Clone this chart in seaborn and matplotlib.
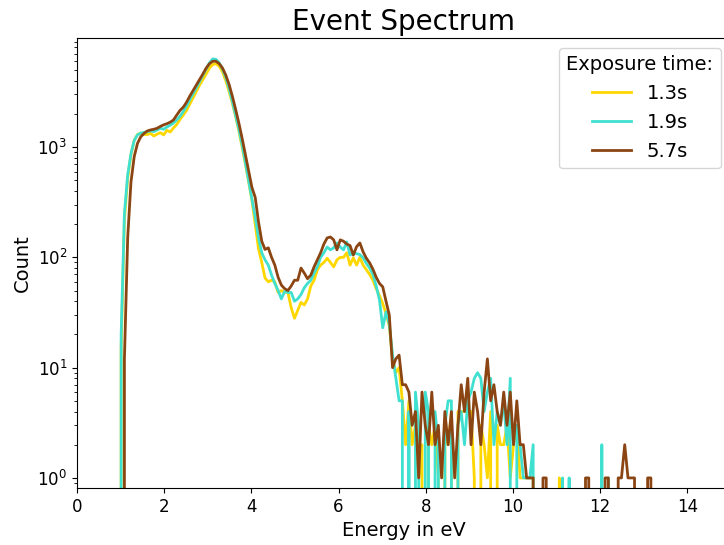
import numpy as np
import pandas as pd
import matplotlib
matplotlib.use("Agg")
import matplotlib.pyplot as plt
import seaborn as sns

# Histogram bin grid (eV)
bin_start = 0.9375
bin_width = 0.075

exposure_labels = ["1.3s", "1.9s", "5.7s"]

counts_1_3s = [
    0, 15, 220, 520, 850, 1150, 1300, 1340, 1300, 1300,
    1330, 1260, 1310, 1350, 1290, 1420, 1370, 1490, 1600, 1780,
    1950, 2150, 2450, 2800, 3200, 3650, 4100, 4600, 5200, 5600,
    5700, 5400, 4800, 4000, 3200, 2500, 1900, 1400, 1000, 700,
    480, 330, 200, 120, 90, 65, 60, 62, 60, 48,
    50, 48, 48, 35, 28, 33, 39, 37, 42, 55,
    62, 77, 85, 90, 98, 90, 82, 95, 100, 100,
    110, 85, 99, 85, 100, 85, 77, 70, 62, 52,
    45, 38, 31, 24, 12, 9, 10, 5, 2, 5,
    2, 3, 1, 2, 0, 3, 2, 3, 1, 0,
    3, 2, 4, 0, 4, 4, 4, 4, 4, 1,
    0, 3, 2, 1, 4, 0, 3, 2, 2, 3,
    1, 2, 3, 1, 1, 1, 1, 1, 0, 0,
    0, 0, 0, 0, 0, 1, 0, 0, 0, 0,
    0, 0, 0, 0, 0, 0, 0, 0, 0, 0,
    0, 0, 0, 0, 0, 0, 0, 0, 0, 0,
    0, 0, 0, 0, 0,
]

counts_1_9s = [
    0, 20, 250, 560, 870, 1150, 1290, 1340, 1360, 1380,
    1400, 1380, 1430, 1480, 1450, 1520, 1580, 1650, 1760, 1900,
    2100, 2350, 2700, 3050, 3450, 3950, 4500, 5100, 5800, 6300,
    6250, 5800, 5100, 4300, 3400, 2600, 1950, 1450, 1050, 720,
    500, 340, 230, 150, 110, 95, 85, 69, 58, 50,
    42, 49, 48, 48, 40, 42, 46, 53, 58, 62,
    72, 82, 100, 110, 124, 117, 122, 135, 124, 117,
    138, 105, 110, 108, 106, 99, 88, 80, 70, 55,
    41, 23, 32, 25, 13, 8, 5, 5, 0, 4,
    0, 6, 3, 0, 6, 4, 0, 4, 2, 0,
    3, 5, 5, 0, 3, 4, 2, 5, 6, 8,
    9, 8, 4, 6, 8, 2, 4, 3, 5, 2,
    8, 0, 3, 2, 1, 1, 1, 2, 0, 0,
    0, 0, 0, 0, 0, 0, 1, 0, 1, 0,
    0, 0, 0, 0, 0, 0, 0, 0, 2, 0,
    1, 0, 0, 0, 0, 0, 0, 0, 0, 0,
    0, 0, 0, 0, 0,
]

counts_5_7s = [
    0, 0, 12, 150, 480, 820, 1080, 1240, 1330, 1400,
    1430, 1450, 1480, 1540, 1590, 1630, 1680, 1760, 1950, 2150,
    2300, 2550, 2900, 3250, 3650, 4100, 4600, 5200, 5700, 6000,
    6000, 5700, 5200, 4500, 3700, 2900, 2200, 1650, 1200, 850,
    600, 430, 350, 210, 140, 118, 122, 100, 85, 66,
    56, 52, 50, 55, 62, 62, 80, 72, 64, 69,
    82, 95, 110, 132, 150, 153, 144, 117, 144, 140,
    132, 128, 105, 125, 135, 112, 98, 89, 78, 66,
    58, 54, 40, 30, 10, 12, 13, 7, 7, 6,
    3, 4, 1, 6, 3, 2, 6, 2, 3, 1,
    4, 2, 4, 1, 3, 7, 4, 8, 2, 6,
    4, 2, 6, 12, 5, 7, 4, 3, 6, 3,
    6, 2, 5, 2, 2, 1, 1, 1, 0, 0,
    1, 1, 0, 0, 0, 0, 0, 0, 0, 0,
    0, 0, 0, 1, 1, 0, 0, 0, 0, 1,
    1, 0, 0, 1, 1, 2, 1, 1, 1, 0,
    0, 0, 1, 1, 0,
]

colors = ["#FFD700", "#40E0D0", "#8B4513"]

n = len(counts_1_3s)
energy = bin_start + bin_width * np.arange(n)

frames = []
for lab, cnt in zip(exposure_labels, [counts_1_3s, counts_1_9s, counts_5_7s]):
    frames.append(pd.DataFrame({"Energy": energy, "Count": cnt, "Exposure": lab}))
df = pd.concat(frames, ignore_index=True)

fig = plt.figure(figsize=(7.24, 5.45), dpi=100)
ax = fig.add_axes([77 / 724, 57 / 545, 654 / 724, 450 / 545])

sns.lineplot(data=df, x="Energy", y="Count", hue="Exposure",
             hue_order=exposure_labels, palette=colors,
             estimator=None, sort=True, linewidth=2, ax=ax)

ax.set_yscale("log")
ax.set_xlim(0, 15)
ax.set_ylim(0.81, 9750)
ax.set_xticks([0, 2, 4, 6, 8, 10, 12, 14])
ax.tick_params(axis="both", labelsize=12)
ax.set_xlabel("Energy in eV", fontsize=14)
ax.set_ylabel("Count", fontsize=14)
ax.set_title("Event Spectrum", fontsize=20)
ax.legend(title="Exposure time:", fontsize=14, title_fontsize=14, loc="upper right")

fig.savefig("out.png", dpi=100)
